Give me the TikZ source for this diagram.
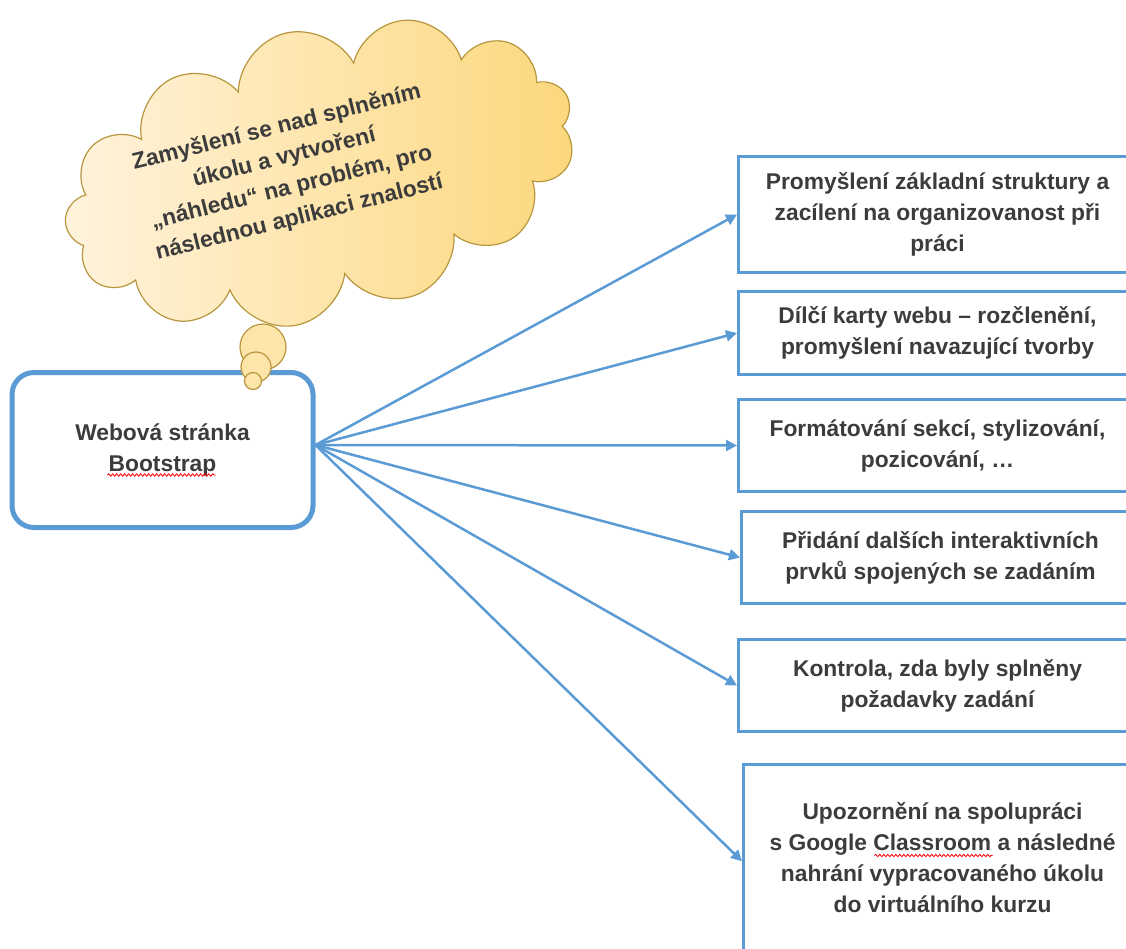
\documentclass[tikz,border=0pt]{standalone}
\usepackage{fontspec}
\setmainfont{Liberation Sans}
\usetikzlibrary{shapes.symbols,arrows.meta,calc,decorations.pathmorphing}
\definecolor{office}{HTML}{5B9BD5}
\definecolor{txt}{HTML}{3C3C3C}
\definecolor{cloudline}{HTML}{B8963E}
\definecolor{cloudL}{HTML}{FFF3DD}
\definecolor{cloudR}{HTML}{FCD77C}
\begin{document}
\begin{tikzpicture}[x=1pt,y=-1pt,
  txtstyle/.style={font=\fontsize{22.8}{31}\selectfont\bfseries, text=txt, align=center},
  box/.style={draw=office, line width=3pt, txtstyle, minimum width=398pt, inner sep=0pt, anchor=north west},
  arr/.style={draw=office, line width=2.5pt, -{Triangle[length=11pt,width=11pt]}},
  bubble/.style={circle, draw=cloudline, line width=1.2pt, fill=cloudL!45!cloudR, inner sep=0pt},
  squiggle/.style={red, line width=0.8pt, decorate, decoration={snake, amplitude=1.2pt, segment length=4pt}}
]
\useasboundingbox (0,0) rectangle (1126,948);
\clip (0,0) rectangle (1126,948);

% thought cloud
\node[cloud, cloud puffs=13, aspect=2.1, draw=cloudline, line width=1.2pt,
      left color=cloudL, right color=cloudR, minimum width=520pt, minimum height=290pt,
      rotate=14, inner sep=0pt] (cloud) at (320,174) {};
\node[txtstyle, rotate=14] (ctext) at (288,173)
  {Zamyšlení se nad splněním\\úkolu a vytvoření\\„náhledu“ na problém, pro\\následnou aplikaci znalostí};

% boxes
\node[box, minimum height=116pt] (b1) at (737,155) {Promyšlení základní struktury a\\zacílení na organizovanost při\\práci};
\node[box, minimum height=83pt]  (b2) at (737,290) {Dílčí karty webu – rozčlenění,\\promyšlení navazující tvorby};
\node[box, minimum height=92pt]  (b3) at (737,398) {Formátování sekcí, stylizování,\\pozicování, …};
\node[box, minimum height=92pt]  (b4) at (740,510) {Přidání dalších interaktivních\\prvků spojených se zadáním};
\node[box, minimum height=92pt]  (b5) at (737,638) {Kontrola, zda byly splněny\\požadavky zadání};
\node[box, minimum height=186pt] (b6) at (742,763) {Upozornění na spolupráci\\s Google Classroom a následné\\nahrání vypracovaného úkolu\\do virtuálního kurzu};

% main node
\node[draw=office, line width=5pt, rounded corners=22pt, minimum width=301pt, minimum height=155pt,
      txtstyle, fill=white] (main) at (162.5,450) {Webová stránka\\Bootstrap};

% spell-check squiggles
\draw[squiggle] ($(main.center)+(-55,25)$) -- ($(main.center)+(53,25)$);
\draw[squiggle] ($(b6.center)+(-68,-2)$) -- ($(b6.center)+(50,-2)$);

\coordinate (hub) at ($(main.east)+(0,-5)$);
\foreach \b in {b1,b2,b3,b4,b5} \draw[arr] (hub) -- (\b.west);
\draw[arr] (hub) -- ($(b6.north west)!0.52!(b6.south west)$);

% bubbles
\node[bubble, minimum size=46pt] (bub1) at (263,347) {};
\node[bubble, minimum size=30pt] (bub2) at (256,367) {};
\node[bubble, minimum size=17pt] (bub3) at (253,381) {};
\end{tikzpicture}
\end{document}
